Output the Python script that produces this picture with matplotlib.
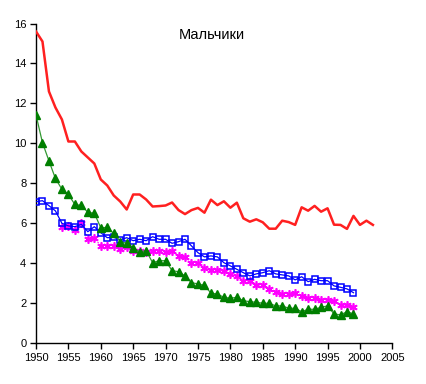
import matplotlib
matplotlib.use("Agg")
import matplotlib.pyplot as plt
import numpy as np

plt.rcParams['font.family'] = ['Liberation Sans', 'DejaVu Sans']

title = "Мальчики"

years_red = list(range(1950, 2003))
red = [15.6, 15.1, 12.6, 11.8, 11.2, 10.1, 10.1, 9.6, 9.3, 9.0,
       8.2, 7.9, 7.4, 7.1, 6.7, 7.45, 7.45, 7.2, 6.85, 6.87,
       6.9, 7.05, 6.67, 6.47, 6.67, 6.78, 6.54, 7.19, 6.92, 7.11,
       6.79, 7.04, 6.26, 6.09, 6.21, 6.06, 5.74, 5.74, 6.14, 6.07,
       5.93, 6.81, 6.64, 6.88, 6.59, 6.76, 5.94, 5.93, 5.73, 6.38,
       5.93, 6.14, 5.93]

years_blue = list(range(1950, 2000))
blue = [7.09, 7.14, 6.89, 6.63, 6.01, 5.88, 5.84, 5.96, 5.59, 5.84,
        5.54, 5.29, 5.31, 5.18, 5.29, 5.14, 5.21, 5.14, 5.34, 5.21,
        5.21, 5.01, 5.09, 5.21, 4.88, 4.54, 4.33, 4.38, 4.33, 4.04,
        3.88, 3.71, 3.54, 3.38, 3.48, 3.54, 3.64, 3.48, 3.43, 3.38,
        3.18, 3.34, 3.09, 3.21, 3.14, 3.14, 2.88, 2.81, 2.73, 2.54]

years_green = list(range(1950, 2000))
green = [11.43, 10.04, 9.13, 8.25, 7.71, 7.45, 6.95, 6.9, 6.56, 6.51,
         5.79, 5.8, 5.5, 5.09, 5.01, 4.76, 4.59, 4.64, 4.04, 4.14,
         4.14, 3.64, 3.59, 3.38, 3.04, 2.98, 2.9, 2.52, 2.47, 2.31,
         2.26, 2.31, 2.14, 2.09, 2.06, 2.01, 2.01, 1.88, 1.88, 1.76,
         1.76, 1.59, 1.71, 1.71, 1.81, 1.88, 1.48, 1.43, 1.59, 1.48]

years_mag = list(range(1954, 2000))
magenta = [5.81, 5.88, 5.68, 6.04, 5.23, 5.26,
           4.89, 4.89, 4.89, 4.73, 4.84, 4.64, 4.64, 4.59, 4.63, 4.63,
           4.59, 4.64, 4.38, 4.31, 4.01, 4.01, 3.76, 3.68, 3.68, 3.64,
           3.48, 3.38, 3.13, 3.13, 2.93, 2.93, 2.71, 2.59, 2.48, 2.48,
           2.51, 2.38, 2.29, 2.29, 2.18, 2.18, 2.14, 1.93, 1.93, 1.84]

xticks = list(range(1950, 2006, 5))
yticks = list(range(0, 17, 2))

fig = plt.figure(figsize=(4.26, 3.84), dpi=100)
ax = fig.add_axes([0.0845, 0.1055, 0.8365, 0.8333])

ax.plot(years_red, red, color='#FF2020', lw=1.8, zorder=3)
ax.plot(years_blue, blue, color='#0000FF', lw=0.9, marker='s', markersize=5,
        markerfacecolor='none', markeredgecolor='#0000FF', markeredgewidth=1.1, zorder=4)
ax.plot(years_mag, magenta, color='#FF00FF', lw=0.9, ls=':', marker=(6, 2, 0), markersize=6,
        markeredgecolor='#FF00FF', markeredgewidth=1.2, zorder=3)
ax.plot(years_green, green, color='#339933', lw=0.9, marker='^', markersize=6,
        markerfacecolor='#007F00', markeredgecolor='#007F00', zorder=5)

ax.set_xlim(1950, 2005)
ax.set_ylim(0, 16)
ax.set_xticks(xticks)
ax.set_yticks(yticks)
for s in ['top', 'right']:
    ax.spines[s].set_visible(False)
for s in ['left', 'bottom']:
    ax.spines[s].set_linewidth(1.0)
    ax.spines[s].set_color('black')
ax.tick_params(direction='out', length=4, width=1, labelsize=8, pad=3)

ax.text(0.494, 0.964, title, transform=ax.transAxes, ha='center', va='center', fontsize=10.5)

fig.savefig('out.png', dpi=100)
